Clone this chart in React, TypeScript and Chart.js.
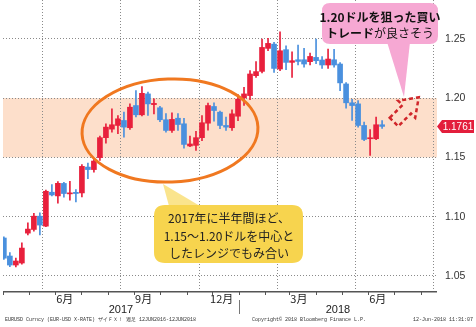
import React, { useEffect, useRef } from "react";
import { Chart, registerables } from "chart.js";

Chart.register(...registerables);

// Weekly candles (week-ending dates), EUR/USD
const weekEnds = [
  "2017-04-02", "2017-04-09", "2017-04-16", "2017-04-23", "2017-04-30",
  "2017-05-07", "2017-05-14", "2017-05-21", "2017-05-28",
  "2017-06-04", "2017-06-11", "2017-06-18", "2017-06-25",
  "2017-07-02", "2017-07-09", "2017-07-16", "2017-07-23", "2017-07-30",
  "2017-08-06", "2017-08-13", "2017-08-20", "2017-08-27",
  "2017-09-03", "2017-09-10", "2017-09-17", "2017-09-24",
  "2017-10-01", "2017-10-08", "2017-10-15", "2017-10-22", "2017-10-29",
  "2017-11-05", "2017-11-12", "2017-11-19", "2017-11-26",
  "2017-12-03", "2017-12-10", "2017-12-17", "2017-12-24", "2017-12-31",
  "2018-01-07", "2018-01-14", "2018-01-21", "2018-01-28",
  "2018-02-04", "2018-02-11", "2018-02-18", "2018-02-25",
  "2018-03-04", "2018-03-11", "2018-03-18", "2018-03-25",
  "2018-04-01", "2018-04-08", "2018-04-15", "2018-04-22", "2018-04-29",
  "2018-05-06", "2018-05-13", "2018-05-20", "2018-05-27",
  "2018-06-03", "2018-06-10", "2018-06-17",
];

const opens = [
  1.082, 1.0668, 1.0592, 1.0609, 1.0861, 1.0892, 1.1004, 1.092, 1.1206, 1.1175,
  1.128, 1.1192, 1.1205, 1.12, 1.1418, 1.1397, 1.1498, 1.1666, 1.1738, 1.1769,
  1.1811, 1.175, 1.1937, 1.1859, 1.2035, 1.1945, 1.1918, 1.1817, 1.1727, 1.183,
  1.1783, 1.1596, 1.1601, 1.1666, 1.1788, 1.1929, 1.1881, 1.1769, 1.175, 1.1847,
  1.2002, 1.2021, 1.2189, 1.2225, 1.2419, 1.2455, 1.2245, 1.2408, 1.2301, 1.2323,
  1.2323, 1.2307, 1.2343, 1.2321, 1.2279, 1.2323, 1.2287, 1.2119, 1.196, 1.1951,
  1.1769, 1.1657, 1.1657, 1.1775,
];
const highs = [
  1.083, 1.0696, 1.065, 1.078, 1.0948, 1.1027, 1.1032, 1.1225, 1.127, 1.1295,
  1.129, 1.1298, 1.1229, 1.144, 1.1452, 1.1489, 1.168, 1.1783, 1.1909, 1.1853,
  1.1881, 1.1951, 1.2063, 1.2097, 1.205, 1.1993, 1.193, 1.187, 1.1876, 1.187,
  1.183, 1.168, 1.172, 1.1853, 1.1957, 1.196, 1.189, 1.1839, 1.1901, 1.2029,
  1.2091, 1.2231, 1.2307, 1.2497, 1.2503, 1.247, 1.2559, 1.244, 1.239, 1.2447,
  1.242, 1.238, 1.2497, 1.235, 1.2413, 1.241, 1.23, 1.213, 1.199, 1.1979,
  1.1797, 1.1735, 1.1839, 1.1811,
];
const lows = [
  1.064, 1.0578, 1.0576, 1.06, 1.0845, 1.0878, 1.0845, 1.0915, 1.1175, 1.1113,
  1.1164, 1.1139, 1.1124, 1.1167, 1.1321, 1.1376, 1.1475, 1.162, 1.1713, 1.17,
  1.1671, 1.1735, 1.184, 1.185, 1.1853, 1.1867, 1.18, 1.1713, 1.171, 1.1727,
  1.1578, 1.159, 1.1559, 1.164, 1.173, 1.1805, 1.1741, 1.1727, 1.1727, 1.181,
  1.1937, 1.1987, 1.2175, 1.2212, 1.2399, 1.2217, 1.223, 1.224, 1.2175, 1.228,
  1.226, 1.228, 1.229, 1.225, 1.225, 1.226, 1.2063, 1.1914, 1.1811, 1.1755,
  1.164, 1.1517, 1.165, 1.1745,
];
const closes = [
  1.065, 1.0592, 1.0626, 1.0735, 1.0895, 1.1004, 1.0929, 1.1214, 1.1183, 1.1281,
  1.1195, 1.12, 1.1195, 1.1424, 1.1397, 1.1469, 1.1666, 1.1755, 1.1775, 1.1825,
  1.1755, 1.1923, 1.1859, 1.204, 1.1951, 1.1955, 1.1817, 1.1727, 1.182, 1.1777,
  1.1609, 1.1613, 1.1666, 1.1792, 1.1937, 1.1895, 1.1769, 1.1755, 1.1867, 1.199,
  1.2035, 1.2203, 1.2223, 1.2427, 1.2461, 1.225, 1.2399, 1.2301, 1.2315, 1.2309,
  1.2287, 1.2351, 1.2315, 1.2279, 1.2329, 1.2279, 1.2128, 1.196, 1.1937, 1.1769,
  1.1651, 1.1662, 1.1775, 1.1761,
];

const lastPrice = 1.1761;
const yTickValues = [1.05, 1.1, 1.15, 1.2, 1.25];
const yTickLabels = ["1.05", "1.10", "1.15", "1.20", "1.25"];
const bandLow = 1.15;
const bandHigh = 1.2;
const quarterStarts = ["2017-04-01", "2017-07-01", "2017-10-01", "2018-01-01", "2018-04-01", "2018-07-01"];
const monthStarts = [
  "2017-04-01", "2017-05-01", "2017-06-01", "2017-07-01", "2017-08-01", "2017-09-01",
  "2017-10-01", "2017-11-01", "2017-12-01", "2018-01-01", "2018-02-01", "2018-03-01",
  "2018-04-01", "2018-05-01", "2018-06-01", "2018-07-01", "2018-08-01",
];
const monthLabelDates = ["2017-06-12", "2017-09-12", "2017-12-12", "2018-03-12", "2018-06-12"];
const monthLabels = ["6月", "9月", "12月", "3月", "6月"];
const yearLabels = ["2017", "2018"];
const yearSpans = [["2017-04-01", "2018-01-01"], ["2018-01-01", "2018-08-20"]];
const xStart = "2017-04-01";
const xEnd = "2018-08-20";

const footerLeft = "EURUSD Curncy (EUR-USD X-RATE) ザイＦＸ！ 週足 12JUN2016-12JUN2018";
const footerMid = "Copyright© 2018 Bloomberg Finance L.P.";
const footerRight = "12-Jun-2018 11:31:07";
const yellowLines = ["2017年に半年間ほど、", "1.15～1.20ドルを中心と", "したレンジでもみ合い"];
const pinkLine1 = "1.20ドルを狙った買い";
const pinkLine2Bold = "トレード";
const pinkLine2Normal = "が良さそう";

const DAY0 = Date.UTC(2017, 3, 1);
const toDay = (s: string) => {
  const [y, m, d] = s.split("-").map(Number);
  return (Date.UTC(y, m - 1, d) - DAY0) / 86400000;
};

const RED = "#E8203C";
const BLUE = "#4A90DE";
const LATIN = "'Liberation Sans', Arial, sans-serif";
const CJK = "'Noto Sans CJK JP', 'Noto Sans', sans-serif";

function roundRect(ctx: CanvasRenderingContext2D, x: number, y: number, w: number, h: number, r: number) {
  ctx.beginPath();
  ctx.moveTo(x + r, y);
  ctx.lineTo(x + w - r, y);
  ctx.quadraticCurveTo(x + w, y, x + w, y + r);
  ctx.lineTo(x + w, y + h - r);
  ctx.quadraticCurveTo(x + w, y + h, x + w - r, y + h);
  ctx.lineTo(x + r, y + h);
  ctx.quadraticCurveTo(x, y + h, x, y + h - r);
  ctx.lineTo(x, y + r);
  ctx.quadraticCurveTo(x, y, x + r, y);
  ctx.closePath();
}

const bandPlugin = {
  id: "band",
  beforeDraw(chart: any) {
    const { ctx, chartArea } = chart;
    const ys = chart.scales.y;
    const top = ys.getPixelForValue(bandHigh);
    const bot = ys.getPixelForValue(bandLow);
    ctx.save();
    ctx.fillStyle = "#FDDFCB";
    ctx.fillRect(chartArea.left, top, chartArea.right - chartArea.left, bot - top);
    ctx.restore();
  },
};

const decorPlugin = {
  id: "decor",
  afterDraw(chart: any) {
    const { ctx, chartArea } = chart;
    const xs = chart.scales.x;
    const ys = chart.scales.y;
    const bottom = chartArea.bottom;
    ctx.save();

    // x axis line
    ctx.strokeStyle = "#555";
    ctx.lineWidth = 1.5;
    ctx.beginPath();
    ctx.moveTo(chartArea.left, bottom + 0.75);
    ctx.lineTo(chartArea.right, bottom + 0.75);
    ctx.stroke();

    // month ticks
    ctx.lineWidth = 1;
    monthStarts.forEach((d) => {
      const px = Math.round(xs.getPixelForValue(toDay(d))) + 0.5;
      if (px > chartArea.right + 1) return;
      ctx.beginPath();
      ctx.moveTo(px, bottom);
      ctx.lineTo(px, bottom + 4);
      ctx.stroke();
    });
    // year separator
    const sepX = Math.round(xs.getPixelForValue(toDay("2018-01-01"))) + 0.5;
    ctx.strokeStyle = "#777";
    ctx.beginPath();
    ctx.moveTo(sepX, bottom + 9);
    ctx.lineTo(sepX, bottom + 23);
    ctx.stroke();

    // month labels
    ctx.fillStyle = "#222";
    ctx.textAlign = "center";
    ctx.textBaseline = "middle";
    ctx.font = `11px ${CJK}`;
    monthLabels.forEach((l, i) => {
      ctx.fillText(l, xs.getPixelForValue(toDay(monthLabelDates[i])), bottom + 8);
    });
    // year labels
    ctx.font = `11px ${LATIN}`;
    yearLabels.forEach((l, i) => {
      const a = xs.getPixelForValue(toDay(yearSpans[i][0]));
      const b = xs.getPixelForValue(toDay(yearSpans[i][1]));
      ctx.fillText(l, (a + b) / 2, bottom + 19);
    });

    // y labels
    ctx.textAlign = "left";
    ctx.font = `10.5px ${LATIN}`;
    ctx.fillStyle = "#333";
    yTickValues.forEach((v, i) => {
      ctx.fillText(yTickLabels[i], chartArea.right + 8, ys.getPixelForValue(v));
    });

    // last price tag
    const py = ys.getPixelForValue(lastPrice);
    const tx = chartArea.right;
    ctx.fillStyle = "#E31E3C";
    ctx.beginPath();
    ctx.moveTo(tx, py);
    ctx.lineTo(tx + 5, py - 6.5);
    ctx.lineTo(tx + 37, py - 6.5);
    ctx.lineTo(tx + 37, py + 6.5);
    ctx.lineTo(tx + 5, py + 6.5);
    ctx.closePath();
    ctx.fill();
    ctx.fillStyle = "#fff";
    ctx.font = `10px ${LATIN}`;
    ctx.textAlign = "center";
    ctx.fillText(lastPrice.toFixed(4), tx + 21, py + 0.5);

    // orange ellipse
    ctx.strokeStyle = "#F07820";
    ctx.lineWidth = 3;
    ctx.beginPath();
    ctx.ellipse(170, 130.5, 88, 51.5, -0.04, 0, Math.PI * 2);
    ctx.stroke();

    // yellow callout
    ctx.fillStyle = "rgba(247, 214, 80, 0.65)";
    ctx.beginPath();
    ctx.moveTo(169, 206);
    ctx.lineTo(163, 184);
    ctx.lineTo(200, 206);
    ctx.closePath();
    ctx.fill();
    ctx.fillStyle = "#F7D44E";
    roundRect(ctx, 154, 205, 149, 58, 11);
    ctx.fill();
    ctx.fillStyle = "#222";
    ctx.font = `12px ${CJK}`;
    ctx.textAlign = "center";
    yellowLines.forEach((l, i) => ctx.fillText(l, 229, 218.5 + i * 17.5));

    // pink callout
    ctx.fillStyle = "#F6A8D3";
    ctx.beginPath();
    ctx.moveTo(387, 42);
    ctx.lineTo(404, 97);
    ctx.lineTo(410, 42);
    ctx.closePath();
    ctx.fill();
    roundRect(ctx, 322, 3, 116, 41, 8);
    ctx.fill();
    ctx.fillStyle = "#111";
    ctx.font = `bold 12px ${CJK}`;
    ctx.fillText(pinkLine1, 380, 17);
    const bw = ctx.measureText(pinkLine2Bold).width;
    ctx.font = `12px ${CJK}`;
    const nw = ctx.measureText(pinkLine2Normal).width;
    const sx = 380 - (bw + nw) / 2;
    ctx.textAlign = "left";
    ctx.font = `bold 12px ${CJK}`;
    ctx.fillText(pinkLine2Bold, sx, 33);
    ctx.font = `12px ${CJK}`;
    ctx.fillText(pinkLine2Normal, sx + bw, 33);

    // red dashed arrow
    ctx.save();
    ctx.translate(406, 110);
    ctx.rotate(-Math.PI / 4);
    ctx.strokeStyle = "#D0262A";
    ctx.lineWidth = 2.5;
    ctx.setLineDash([4, 3]);
    ctx.beginPath();
    ctx.moveTo(-17, -6);
    ctx.lineTo(1, -6);
    ctx.lineTo(1, -12);
    ctx.lineTo(18, 0);
    ctx.lineTo(1, 12);
    ctx.lineTo(1, 6);
    ctx.lineTo(-17, 6);
    ctx.closePath();
    ctx.stroke();
    ctx.restore();

    // footer
    ctx.fillStyle = "#333";
    ctx.font = `5px 'Liberation Mono', monospace`;
    ctx.textAlign = "left";
    ctx.textBaseline = "middle";
    ctx.fillText(footerLeft, 5, 320);
    ctx.fillText(footerMid, 252, 320);
    ctx.textAlign = "right";
    ctx.fillText(footerRight, 473, 320);

    ctx.restore();
  },
};

export default function App() {
  const ref = useRef<HTMLCanvasElement>(null);
  useEffect(() => {
    const xvals = weekEnds.map(toDay);
    const colors = closes.map((c, i) => (c >= opens[i] ? RED : BLUE));
    const chart = new Chart(ref.current as HTMLCanvasElement, {
      type: "bar",
      data: {
        datasets: [
          {
            label: "wick",
            data: xvals.map((x, i) => ({ x, y: [lows[i], highs[i]] })) as any,
            backgroundColor: colors,
            barThickness: 1,
            grouped: false,
            order: 2,
          } as any,
          {
            label: "body",
            data: xvals.map((x, i) => ({ x, y: [opens[i], closes[i]] })) as any,
            backgroundColor: colors,
            barThickness: 5,
            minBarLength: 1,
            grouped: false,
            order: 1,
          } as any,
        ],
      },
      options: {
        animation: false,
        responsive: false,
        events: [],
        plugins: { legend: { display: false }, tooltip: { enabled: false } },
        layout: { padding: { left: 3, top: 0, right: 0, bottom: 0 } },
        scales: {
          x: {
            type: "linear",
            min: toDay(xStart),
            max: toDay(xEnd),
            offset: false,
            afterBuildTicks: (s: any) => {
              s.ticks = quarterStarts.map((d) => ({ value: toDay(d) }));
            },
            afterFit: (s: any) => {
              s.height = 36;
            },
            ticks: { display: false },
            grid: { color: "#8a8a8a", lineWidth: 1, drawTicks: false, borderDash: [1, 2] } as any,
            border: { display: false, dash: [1, 2] },
          },
          y: {
            type: "linear",
            position: "right",
            min: 1.0373,
            max: 1.2827,
            afterBuildTicks: (s: any) => {
              s.ticks = yTickValues.map((v) => ({ value: v }));
            },
            afterFit: (s: any) => {
              s.width = 39;
            },
            ticks: { display: false },
            grid: { color: "#8a8a8a", lineWidth: 1, drawTicks: false, borderDash: [1, 2] } as any,
            border: { display: false, dash: [1, 2] },
          },
        },
      } as any,
      plugins: [bandPlugin, decorPlugin],
    });
    return () => chart.destroy();
  }, []);
  return (
    <div style={{ position: "absolute", left: 0, top: 0, width: 476, height: 327, background: "#fff" }}>
      <canvas ref={ref} width={476} height={327} style={{ width: 476, height: 327, display: "block" }} />
    </div>
  );
}
